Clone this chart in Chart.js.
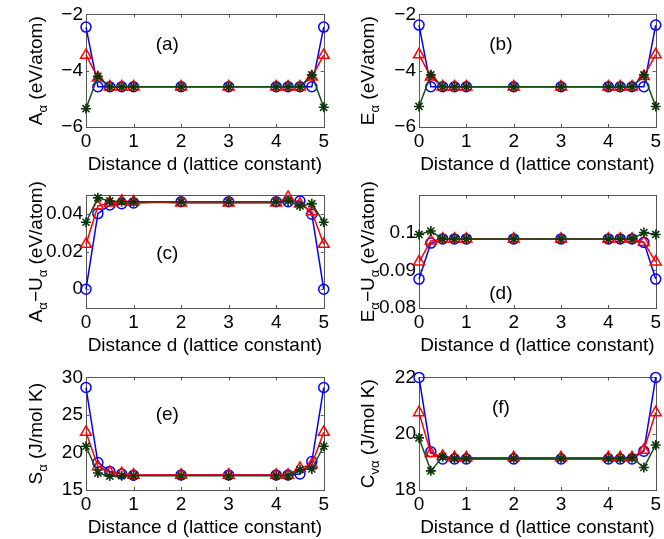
<!DOCTYPE html>
<html lang="en">
<head>
  <meta charset="UTF-8">
  <title>Thermodynamic quantities vs distance</title>
  <script src="https://cdn.jsdelivr.net/npm/chart.js@4"></script>
  <style>
    body { margin: 0; background: #fff; }
    #wrap { position: relative; width: 664px; height: 539px; overflow: hidden; }
    .panel { position: absolute; width: 332px; height: 180px; }
  </style>
</head>
<body>
  <div id="wrap">
    <div class="panel" style="left:0;top:0"><canvas id="pa" width="332" height="180"></canvas></div>
    <div class="panel" style="left:332px;top:0"><canvas id="pb" width="332" height="180"></canvas></div>
    <div class="panel" style="left:0;top:181px"><canvas id="pc" width="332" height="180"></canvas></div>
    <div class="panel" style="left:332px;top:181px"><canvas id="pd" width="332" height="180"></canvas></div>
    <div class="panel" style="left:0;top:363px"><canvas id="pe" width="332" height="180"></canvas></div>
    <div class="panel" style="left:332px;top:363px"><canvas id="pf" width="332" height="180"></canvas></div>
  </div>

  <script>
    // distance d in lattice constants
    const distance = [0, 0.25, 0.5, 0.75, 1, 2, 3, 4, 4.25, 4.5, 4.75, 5];
    const xTicks = [0, 1, 2, 3, 4, 5];

    // (a) A_alpha
    const aBlue  = [-2.45, -4.57, -4.57, -4.57, -4.57, -4.57, -4.57, -4.57, -4.57, -4.57, -4.57, -2.45];
    const aRed   = [-3.45, -4.25, -4.57, -4.57, -4.57, -4.57, -4.57, -4.57, -4.57, -4.57, -4.22, -3.45];
    const aGreen = [-5.35, -4.20, -4.57, -4.57, -4.57, -4.57, -4.57, -4.57, -4.57, -4.57, -4.15, -5.30];
    const aTicks = [-6, -4, -2];

    // (b) E_alpha
    const bBlue  = [-2.38, -4.57, -4.57, -4.57, -4.57, -4.57, -4.57, -4.57, -4.57, -4.57, -4.57, -2.38];
    const bRed   = [-3.43, -4.22, -4.57, -4.57, -4.57, -4.57, -4.57, -4.57, -4.57, -4.57, -4.20, -3.43];
    const bGreen = [-5.27, -4.15, -4.57, -4.57, -4.57, -4.57, -4.57, -4.57, -4.57, -4.57, -4.15, -5.27];
    const bTicks = [-6, -4, -2];

    // (c) A_alpha - U_alpha
    const cBlue  = [0, 0.0403, 0.0449, 0.0456, 0.046, 0.0466, 0.0466, 0.0466, 0.0466, 0.047, 0.040, 0];
    const cRed   = [0.024, 0.0444, 0.046, 0.047, 0.0466, 0.046, 0.046, 0.046, 0.049, 0.0455, 0.0414, 0.024];
    const cGreen = [0.0357, 0.0487, 0.047, 0.0466, 0.0466, 0.0466, 0.0466, 0.0466, 0.047, 0.0444, 0.0456, 0.0357];
    const cTicks = [0, 0.02, 0.04];

    // (d) E_alpha - U_alpha
    const dBlue  = [0.0877, 0.0973, 0.0984, 0.0984, 0.0984, 0.0984, 0.0984, 0.0984, 0.0984, 0.0984, 0.0975, 0.0877];
    const dRed   = [0.0923, 0.0979, 0.0984, 0.0984, 0.0984, 0.0984, 0.0984, 0.0984, 0.0984, 0.0984, 0.0975, 0.0923];
    const dGreen = [0.0996, 0.1005, 0.0984, 0.0984, 0.0984, 0.0984, 0.0984, 0.0984, 0.0984, 0.0984, 0.1001, 0.0996];
    const dTicks = [0.08, 0.09, 0.1];

    // (e) S_alpha
    const eBlue  = [28.65, 18.65, 17.48, 17.13, 16.96, 17.0, 17.0, 17.0, 17.0, 17.13, 18.78, 28.65];
    const eRed   = [22.7, 18.13, 17.35, 17.2, 17.0, 17.0, 17.0, 17.0, 17.0, 17.9, 18.4, 22.7];
    const eGreen = [20.83, 17.26, 16.85, 16.9, 16.9, 16.9, 16.9, 16.9, 16.9, 17.7, 17.8, 20.83];
    const eTicks = [15, 20, 25, 30];

    // (f) C_v_alpha
    const fBlue  = [22.0, 19.36, 19.1, 19.1, 19.1, 19.1, 19.1, 19.1, 19.1, 19.1, 19.38, 22.0];
    const fRed   = [20.75, 19.3, 19.2, 19.15, 19.15, 19.15, 19.15, 19.15, 19.15, 19.15, 19.42, 20.75];
    const fGreen = [19.85, 18.68, 19.18, 19.12, 19.12, 19.12, 19.12, 19.12, 19.12, 19.15, 18.8, 19.6];
    const fTicks = [18, 20, 22];

    const FONT = "'Liberation Sans', Arial, sans-serif";
    const FS = 19;

    const toPoints = ys => distance.map((d, i) => ({ x: d, y: ys[i] }));

    // box + inward tick marks, matlab style
    const framePlugin = {
      id: 'frame',
      beforeDatasetsDraw(chart) {
        const { ctx, chartArea: a, scales: { x, y } } = chart;
        ctx.save();
        ctx.strokeStyle = '#555';
        ctx.lineWidth = 1;
        ctx.strokeRect(Math.round(a.left) + 0.5, Math.round(a.top) + 0.5,
          Math.round(a.right - a.left), Math.round(a.bottom - a.top));
        ctx.beginPath();
        x.ticks.forEach(t => {
          const px = Math.round(x.getPixelForValue(t.value)) + 0.5;
          ctx.moveTo(px, a.bottom); ctx.lineTo(px, a.bottom - 3);
          ctx.moveTo(px, a.top); ctx.lineTo(px, a.top + 3);
        });
        y.ticks.forEach(t => {
          const py = Math.round(y.getPixelForValue(t.value)) + 0.5;
          ctx.moveTo(a.left, py); ctx.lineTo(a.left + 3, py);
          ctx.moveTo(a.right, py); ctx.lineTo(a.right - 3, py);
        });
        ctx.stroke();
        ctx.restore();
      }
    };

    // y title with subscripts and the (a)..(f) tag
    const textPlugin = {
      id: 'panelText',
      afterDraw(chart, args, opts) {
        const { ctx, chartArea: a, scales: { x, y } } = chart;
        ctx.save();
        ctx.fillStyle = '#000';
        ctx.textBaseline = 'alphabetic';
        const parts = opts.yTitle;
        const fontOf = p => (p.sub ? '13px ' : FS + 'px ') + FONT;
        let w = 0;
        parts.forEach(p => { ctx.font = fontOf(p); w += ctx.measureText(p.t).width; });
        ctx.translate(42, (a.top + a.bottom) / 2);
        ctx.rotate(-Math.PI / 2);
        let cx = -w / 2;
        parts.forEach(p => {
          ctx.font = fontOf(p);
          ctx.fillText(p.t, cx, p.sub ? 5 : 0);
          cx += ctx.measureText(p.t).width;
        });
        ctx.restore();

        ctx.save();
        ctx.font = FS + 'px ' + FONT;
        ctx.fillStyle = '#000';
        ctx.textAlign = 'center';
        ctx.textBaseline = 'middle';
        ctx.fillText(opts.tag, x.getPixelForValue(opts.tagAt[0]), y.getPixelForValue(opts.tagAt[1]));
        ctx.restore();
      }
    };

    function makePanel(id, blue, red, green, yMin, yMax, yTicks, yLabel, title, tag, tagAt, leftW) {
      new Chart(document.getElementById(id), {
        type: 'line',
        data: {
          datasets: [
            {
              data: toPoints(blue), borderColor: '#0000ff', borderWidth: 1.5,
              pointStyle: 'circle', pointRadius: 5, pointBorderWidth: 1.5,
              pointBorderColor: '#0000ff', pointBackgroundColor: 'rgba(0,0,0,0)', order: 2
            },
            {
              data: toPoints(red), borderColor: '#ff0000', borderWidth: 1.5,
              pointStyle: 'triangle', pointRadius: 6.3, pointBorderWidth: 1.5,
              pointBorderColor: '#ff0000', pointBackgroundColor: 'rgba(0,0,0,0)', order: 1
            },
            {
              data: toPoints(green), borderColor: '#154f15', borderWidth: 1.5,
              pointStyle: 'star', pointRadius: 5, pointBorderWidth: 1.6,
              pointBorderColor: '#0a360a', pointBackgroundColor: '#0a360a', order: 0
            }
          ]
        },
        options: {
          responsive: false,
          animation: false,
          clip: false,
          layout: { padding: { top: 11, right: 332 - leftW - 240, left: 0, bottom: 0 } },
          plugins: {
            legend: { display: false },
            tooltip: { enabled: false },
            panelText: { yTitle: title, tag: tag, tagAt: tagAt }
          },
          elements: { line: { tension: 0 } },
          scales: {
            x: {
              type: 'linear', min: 0, max: 5,
              afterBuildTicks: s => { s.ticks = xTicks.map(v => ({ value: v })); },
              afterFit: s => { s.height = 53; },
              grid: { display: false, drawTicks: false },
              border: { display: false },
              ticks: { color: '#000', padding: 3, maxRotation: 0, font: { family: FONT, size: FS } },
              title: {
                display: true, text: 'Distance d (lattice constant)', color: '#000',
                font: { family: FONT, size: FS }, padding: { top: 0, bottom: 4 }
              }
            },
            y: {
              type: 'linear', min: yMin, max: yMax,
              afterBuildTicks: s => { s.ticks = yTicks.map(v => ({ value: v })); },
              afterFit: s => { s.width = leftW; },
              grid: { display: false, drawTicks: false },
              border: { display: false },
              ticks: {
                color: '#000', padding: 3, font: { family: FONT, size: FS },
                callback: (v, i) => yLabel[i]
              }
            }
          }
        },
        plugins: [framePlugin, textPlugin]
      });
    }

    const minusLabels = t => t.map(v => String(v).replace('-', '\u2212'));

    makePanel('pa', aBlue, aRed, aGreen, -6, -2, aTicks, minusLabels(aTicks),
      [{ t: 'A' }, { t: '\u03b1', sub: true }, { t: ' (eV/atom)' }], '(a)', [1.71, -3.07], 86);
    makePanel('pb', bBlue, bRed, bGreen, -6, -2, bTicks, minusLabels(bTicks),
      [{ t: 'E' }, { t: '\u03b1', sub: true }, { t: ' (eV/atom)' }], '(b)', [1.73, -3.07], 87);
    makePanel('pc', cBlue, cRed, cGreen, -0.01, 0.05, cTicks, ['0', '0.02', '0.04'],
      [{ t: 'A' }, { t: '\u03b1', sub: true }, { t: '\u2212U' }, { t: '\u03b1', sub: true }, { t: ' (eV/atom)' }],
      '(c)', [1.71, 0.0191], 86);
    makePanel('pd', dBlue, dRed, dGreen, 0.08, 0.11, dTicks, ['0.08', '0.09', '0.1'],
      [{ t: 'E' }, { t: '\u03b1', sub: true }, { t: '\u2212U' }, { t: '\u03b1', sub: true }, { t: ' (eV/atom)' }],
      '(d)', [1.73, 0.0837], 87);
    makePanel('pe', eBlue, eRed, eGreen, 15, 30, eTicks, ['15', '20', '25', '30'],
      [{ t: 'S' }, { t: '\u03b1', sub: true }, { t: ' (J/mol K)' }], '(e)', [1.71, 25.08], 86);
    makePanel('pf', fBlue, fRed, fGreen, 18, 22, fTicks, ['18', '20', '22'],
      [{ t: 'C' }, { t: 'v\u03b1', sub: true }, { t: ' (J/mol K)' }], '(f)', [1.73, 20.92], 87);
  </script>
</body>
</html>
